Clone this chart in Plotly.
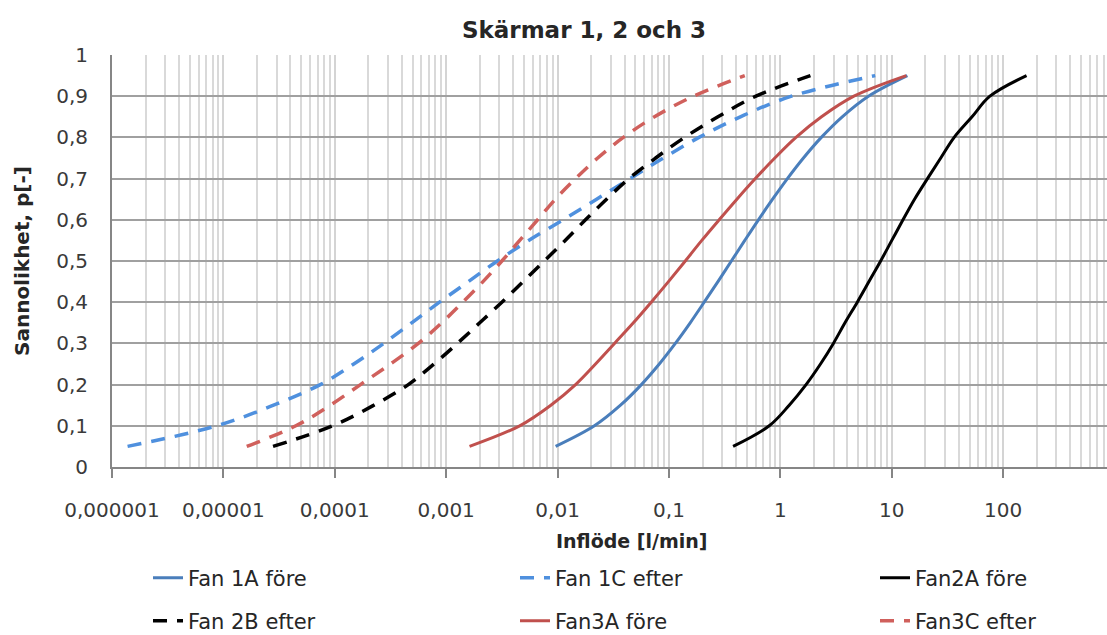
import plotly.graph_objects as go

# probability levels (y)
p_levels = [0.05, 0.10, 0.15, 0.20, 0.25, 0.30, 0.35, 0.40, 0.45, 0.50,
            0.55, 0.60, 0.65, 0.70, 0.75, 0.80, 0.85, 0.90, 0.95]

# inflow [l/min] at each probability level
fan1a_fore = [0.0096, 0.0214, 0.0367, 0.0565, 0.0818, 0.114, 0.155, 0.207, 0.275, 0.363,
              0.479, 0.635, 0.851, 1.156, 1.61, 2.33, 3.59, 6.17, 13.8]
fan1c_efter = [1.38e-6, 8.7e-6, 2.82e-5, 7.41e-5, 1.48e-4, 2.75e-4, 4.9e-4, 8.7e-4, 1.58e-3, 2.88e-3,
               5.5e-3, 0.0112, 0.0224, 0.0447, 0.0891, 0.186, 0.437, 1.26, 7.1]
fan2a_fore = [0.376, 0.794, 1.2, 1.7, 2.29, 2.99, 3.8, 4.9, 6.24, 7.94,
              10.0, 12.6, 16.0, 20.9, 27.5, 36.3, 52.5, 76.0, 162.0]
fan2b_efter = [2.79e-5, 9.55e-5, 2.24e-4, 4.57e-4, 7.76e-4, 1.26e-3, 2.0e-3, 3.16e-3, 4.9e-3, 7.59e-3,
               0.0117, 0.0178, 0.0275, 0.0437, 0.0759, 0.138, 0.275, 0.603, 1.86]
fan3a_fore = [0.00162, 0.00457, 0.0087, 0.0145, 0.0219, 0.0324, 0.0479, 0.0692, 0.0989, 0.14,
              0.197, 0.282, 0.407, 0.596, 0.891, 1.38, 2.34, 4.57, 13.5]
fan3c_efter = [1.62e-5, 4.47e-5, 9.12e-5, 1.7e-4, 3.16e-4, 5.62e-4, 9.12e-4, 1.41e-3, 2.14e-3, 3.16e-3,
               4.57e-3, 6.61e-3, 9.55e-3, 0.0145, 0.0229, 0.0389, 0.0741, 0.166, 0.479]

series_names = ["Fan 1A före", "Fan 1C efter", "Fan2A före", "Fan 2B efter", "Fan3A före", "Fan3C efter"]

x_tickvals = [1e-6, 1e-5, 1e-4, 1e-3, 1e-2, 1e-1, 1, 10, 100, 1000]
x_ticktext = ["0,000001", "0,00001", "0,0001", "0,001", "0,01", "0,1", "1", "10", "100", "1000"]
y_tickvals = [0, 0.1, 0.2, 0.3, 0.4, 0.5, 0.6, 0.7, 0.8, 0.9, 1.0]
y_ticktext = ["0", "0,1", "0,2", "0,3", "0,4", "0,5", "0,6", "0,7", "0,8", "0,9", "1"]

minor_vals = [m * 10.0 ** e for e in range(-6, 3) for m in range(2, 10)]

FONT = "DejaVu Sans"
DASH = "14px,10px"

colors = ["#4a7ebb", "#4f90de", "#000000", "#000000", "#c0504d", "#d0605c"]
dashes = ["solid", DASH, "solid", DASH, "solid", DASH]
widths = [3, 3.5, 3, 3.5, 3, 3.5]
data = [fan1a_fore, fan1c_efter, fan2a_fore, fan2b_efter, fan3a_fore, fan3c_efter]

# one legend per entry so the 3 x 2 grid can be placed exactly
PLOT_L, PLOT_W, PLOT_B, PLOT_H = 112, 995, 467, 412
col_px = [148, 515, 875]
row_px = [578, 621]
legend_ids = ["legend", "legend2", "legend3", "legend4", "legend5", "legend6"]

fig = go.Figure()
for i, (name, xs) in enumerate(zip(series_names, data)):
    fig.add_trace(go.Scatter(
        x=xs, y=p_levels, mode="lines", name=name, legend=legend_ids[i],
        line=dict(color=colors[i], width=widths[i], dash=dashes[i],
                  shape="spline", smoothing=1.0),
    ))

legends = {}
for i, lid in enumerate(legend_ids):
    c, r = i % 3, i // 3
    legends[lid] = dict(x=(col_px[c] - PLOT_L) / PLOT_W, xanchor="left",
                        y=(PLOT_B - row_px[r]) / PLOT_H, yanchor="middle",
                        orientation="h", font=dict(size=21, color="#262626"),
                        bgcolor="rgba(0,0,0,0)")

fig.update_layout(
    width=1107, height=635,
    margin=dict(l=112, r=0, t=55, b=168, autoexpand=False),
    paper_bgcolor="white", plot_bgcolor="white",
    font=dict(family=FONT, color="#333333", size=19),
    title=dict(text="<b>Skärmar 1, 2 och 3</b>", x=584 / 1107, xanchor="center",
               y=1 - 30 / 635, yanchor="middle", font=dict(size=23, color="#262626")),
    showlegend=True,
    xaxis=dict(type="log", range=[-6, -6 + 995 / 111.4],
               tickmode="array", tickvals=x_tickvals, ticktext=x_ticktext,
               ticks="outside", ticklen=9, tickcolor="#868686", tickwidth=1.5,
               showgrid=True, gridcolor="#d4d4d4", gridwidth=1.5,
               minor=dict(tickmode="array", tickvals=minor_vals, showgrid=True,
                          gridcolor="#d9d9d9", gridwidth=1.5, ticks=""),
               showline=True, linecolor="#868686", linewidth=2,
               ticklabelstandoff=15,
               tickfont=dict(size=20, color="#3a3a3a"), zeroline=False),
    yaxis=dict(range=[0, 1], tickmode="array", tickvals=y_tickvals, ticktext=y_ticktext,
               showgrid=True, gridcolor="#a0a0a0", gridwidth=2,
               showline=True, linecolor="#868686", linewidth=2,
               ticks="", ticklabelstandoff=18,
               tickfont=dict(size=20, color="#3a3a3a"), zeroline=False),
    annotations=[
        dict(text="<b>Sannolikhet, p[-]</b>", xref="paper", yref="paper",
             x=-(112 - 22) / 995, y=0.5, xanchor="center", yanchor="middle",
             textangle=-90, showarrow=False, font=dict(size=20, color="#262626")),
        dict(text="<b>Inflöde [l/min]</b>", xref="paper", yref="paper",
             x=(632 - 112) / 995, y=-(541 - 467) / 412, xanchor="center", yanchor="middle",
             showarrow=False, font=dict(size=19, color="#262626")),
    ],
    **legends,
)

fig.write_html("out.html")
